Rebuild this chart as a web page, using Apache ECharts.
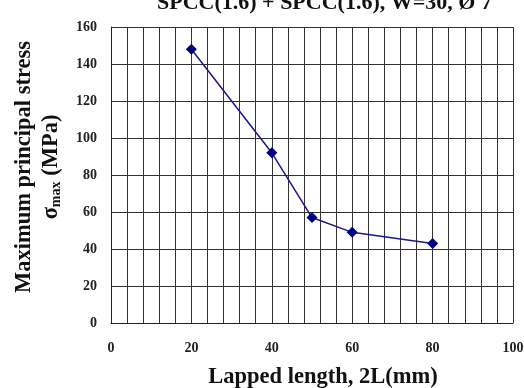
<!DOCTYPE html>
<html><head><meta charset="utf-8">
<script src="https://cdn.jsdelivr.net/npm/echarts@6/dist/echarts.min.js"></script>
<style>html,body{margin:0;padding:0;background:#fff}#c{width:524px;height:388px}</style>
</head><body><div id="c"></div>
<script>
const lappedLength = [20, 40, 50, 60, 80];
const maxStress = [148, 92, 57, 49, 43];
const titleText = 'SPCC(1.6) + SPCC(1.6), W=30, Ø 7';
const xName = 'Lapped length, 2L(mm)';
const serif = '"Liberation Serif","Times New Roman",serif';
const chart = echarts.init(document.getElementById('c'));
chart.setOption({
  animation: false,
  title: { text: titleText, left: 152, top: -13,
    textStyle: { fontFamily: serif, fontWeight: 'bold', fontSize: 22, color: '#111' } },
  grid: { left: 111, right: 11, top: 27, bottom: 65, outerBoundsMode: 'none', containLabel: false },
  xAxis: { type: 'value', min: 0, max: 100, interval: 4,
    name: xName, nameLocation: 'middle', nameGap: 43,
    nameTextStyle: { fontFamily: serif, fontWeight: 'bold', fontSize: 22.5, color: '#111', padding: [0, 0, 0, 22] },
    axisLine: { show: true, lineStyle: { color: '#222', width: 1 } },
    axisTick: { show: false },
    axisLabel: { margin: 18, fontFamily: serif, fontWeight: 'bold', fontSize: 14, color: '#222',
      formatter: v => (v % 20 === 0 ? String(v) : '') },
    splitLine: { show: true, lineStyle: { color: '#333', width: 1 } } },
  yAxis: { type: 'value', min: 0, max: 160, interval: 20,
    name: 'Maximum principal stress\n{s|σ}{sub|max}{s| (MPa)}', nameLocation: 'middle', nameGap: 45, nameRotate: 90,
    nameTextStyle: { fontFamily: serif, fontWeight: 'bold', fontSize: 22.5, color: '#111', lineHeight: 27, padding: [0, 0, 0, 16],
      rich: { s: { fontFamily: serif, fontWeight: 'bold', fontSize: 22.5, color: '#111', lineHeight: 27 },
              sub: { fontFamily: serif, fontWeight: 'bold', fontSize: 14, color: '#111', lineHeight: 27, padding: [10, 0, 0, 0] } } },
    axisLine: { show: true, lineStyle: { color: '#222', width: 1 } },
    axisTick: { show: false },
    axisLabel: { margin: 14, fontFamily: serif, fontWeight: 'bold', fontSize: 14, color: '#222' },
    splitLine: { show: true, lineStyle: { color: '#333', width: 1 } } },
  series: [{ type: 'line', data: lappedLength.map((x, i) => [x, maxStress[i]]),
    symbol: 'diamond', symbolSize: 11,
    lineStyle: { color: '#1a1a8c', width: 1.5 }, itemStyle: { color: '#000080' } }]
});
</script></body></html>
